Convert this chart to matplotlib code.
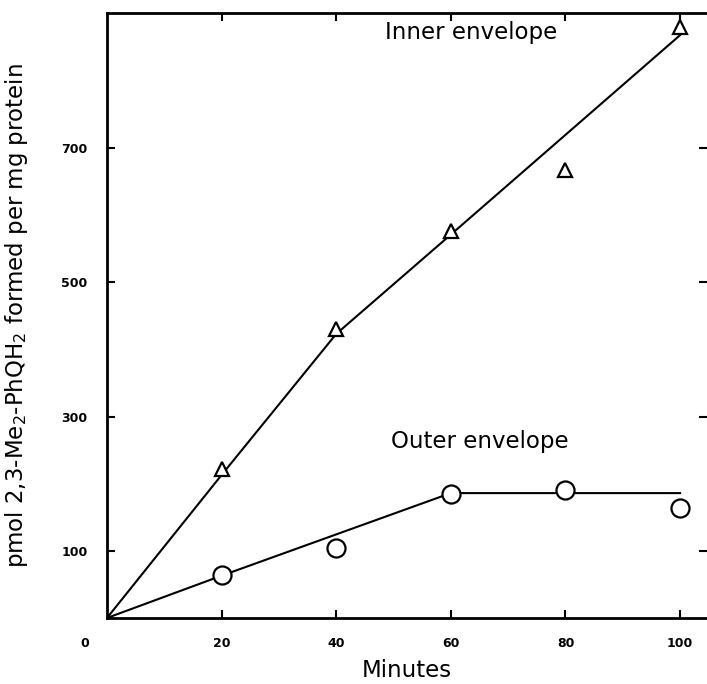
import matplotlib
matplotlib.use("Agg")
import matplotlib.pyplot as plt

# Data
minutes = [20, 40, 60, 80, 100]
inner_vals = [222, 430, 576, 667, 880]
outer_vals = [64, 104, 185, 190, 164]

inner_fit_x = [0, 20, 40, 60, 100]
inner_fit_y = [0, 213, 423, 571, 868]
outer_fit_x = [0, 20, 60, 100]
outer_fit_y = [0, 63, 186, 186]

xticks = [20, 40, 60, 80, 100]
yticks = [100, 300, 500, 700]

fig = plt.figure(figsize=(7.07, 6.84), dpi=100)
ax = fig.add_axes([0.1513, 0.0965, 0.8487, 0.8845])

ax.plot(inner_fit_x, inner_fit_y, color="black", lw=1.5, zorder=2)
ax.plot(outer_fit_x, outer_fit_y, color="black", lw=1.5, zorder=2)
ax.plot(minutes, inner_vals, linestyle="none", marker="^", markersize=10,
        markerfacecolor="white", markeredgecolor="black", markeredgewidth=1.6, zorder=3)
ax.plot(minutes, outer_vals, linestyle="none", marker="o", markersize=13,
        markerfacecolor="white", markeredgecolor="black", markeredgewidth=1.6, zorder=3)

ax.set_xlim(0, 104.7)
ax.set_ylim(0, 901)

ax.spines["right"].set_visible(False)
for s in ["left", "bottom", "top"]:
    ax.spines[s].set_linewidth(2.0)

ax.set_xticks(xticks)
ax.set_yticks(yticks)
ax.tick_params(axis="both", direction="in", length=6, width=1.5,
               top=True, right=True, labelsize=9, pad=14)
for lab in ax.get_xticklabels() + ax.get_yticklabels():
    lab.set_fontweight("bold")

ax.text(-0.037, -0.042, "0", transform=ax.transAxes, fontsize=9,
        fontweight="bold", ha="center", va="center")

ax.set_xlabel("Minutes", fontsize=16.5, labelpad=6)
ax.set_ylabel("pmol 2,3-Me$_2$-PhQH$_2$ formed per mg protein", fontsize=16.5)
ax.yaxis.set_label_coords(-0.128, 0.5)

ax.text(63.5, 872, "Inner envelope", fontsize=16.5, ha="center", va="center")
ax.text(65.0, 263, "Outer envelope", fontsize=16.5, ha="center", va="center")

fig.savefig("out.png", dpi=100)
